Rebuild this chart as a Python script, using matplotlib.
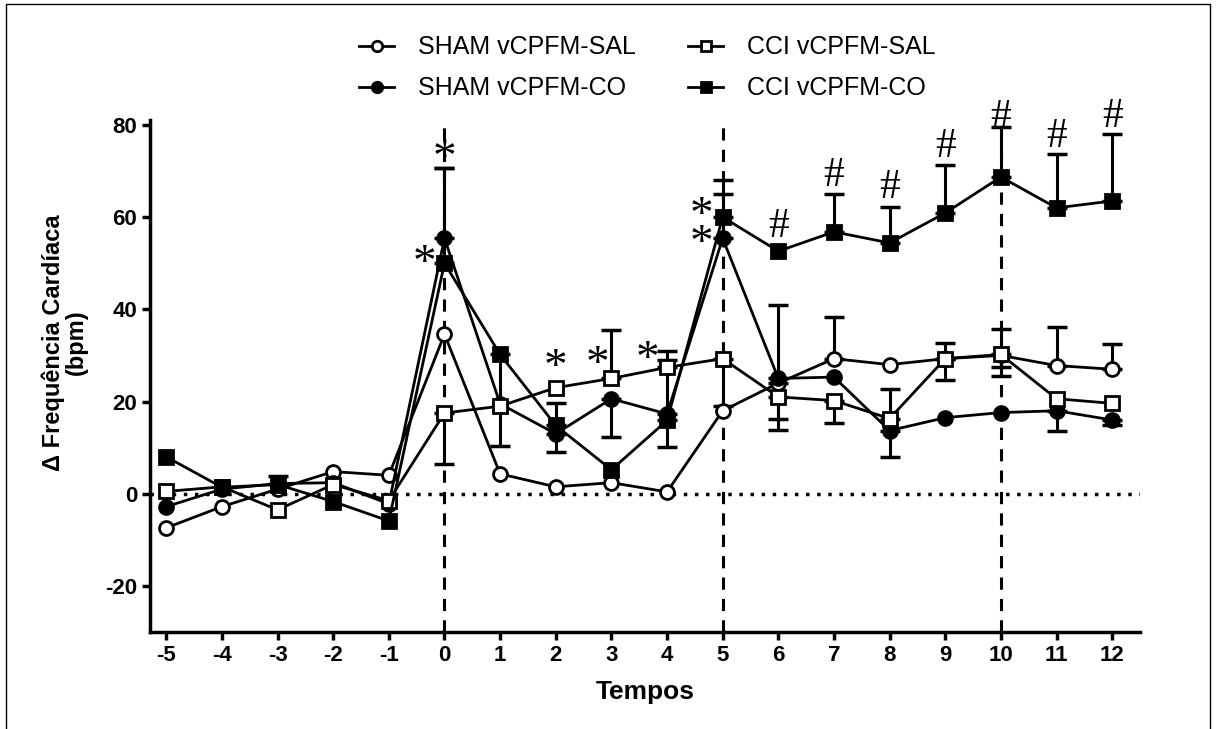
import matplotlib
matplotlib.use("Agg")
import matplotlib.pyplot as plt
import numpy as np
from matplotlib.patches import Rectangle

# time points
tempos = np.arange(-5, 13)

# mean values (delta bpm)
sham_sal = [-7.4, -2.8, 1.0, 4.8, 4.0, 34.6, 4.3, 1.5, 2.4, 0.4, 18.0, 24.0, 29.3, 28.0, 29.3, 30.0, 27.8, 27.0]
sham_co = [-2.8, 1.0, 2.2, 2.4, -2.2, 55.4, 19.5, 13.0, 20.6, 17.3, 55.4, 25.0, 25.3, 13.7, 16.5, 17.6, 18.0, 16.0]
cci_sal = [0.5, 1.5, -3.5, 2.0, -1.5, 17.5, 19.0, 23.0, 25.0, 27.4, 29.3, 21.0, 20.2, 16.3, 29.3, 30.2, 20.6, 19.6]
cci_co = [8.0, 1.4, 2.0, -1.7, -5.9, 50.0, 30.2, 14.8, 5.2, 15.9, 60.0, 52.6, 56.8, 54.4, 60.9, 68.7, 62.0, 63.5]

# one-sided SEM bars (lower, upper)
sham_sal_lo = [0, 0, 0, 0, 0, 0, 0, 0, 0, 0, 0, 10.1, 0, 0, 0, 4.4, 0, 0]
sham_sal_up = [0, 0, 0, 0, 0, 0, 0, 0, 0, 0, 0, 0, 9.0, 0, 3.3, 5.8, 8.3, 5.4]
sham_co_lo = [0, 0, 0, 0, 0, 0, 0, 3.9, 8.4, 7.1, 0, 0, 0, 5.7, 0, 0, 4.5, 1.2]
sham_co_up = [0, 0, 1.7, 0, 0, 15.2, 0, 0, 0, 0, 9.6, 16.0, 0, 0, 0, 0, 0, 0]
cci_sal_lo = [0, 0, 0, 0, 0, 11.0, 0, 0, 0, 0, 10.3, 4.7, 4.8, 0, 4.7, 2.8, 0, 0]
cci_sal_up = [0, 0, 0, 0, 0, 0, 0, 0, 10.6, 3.5, 0, 0, 0, 6.5, 0, 0, 0, 0]
cci_co_lo = [0, 0, 0, 0, 0, 0, 19.8, 0, 0, 0, 0, 0, 0, 0, 0, 0, 0, 0]
cci_co_up = [0, 0, 0, 0, 0, 20.6, 0, 4.8, 0, 13.1, 8.0, 0, 8.2, 7.8, 10.4, 10.9, 11.7, 14.5]

# significance marks
star_x = [0, -0.36, 2.0, 2.75, 3.65, 4.62]
star_y = [72.5, 49.6, 27.2, 27.8, 28.9, 57.0]
star_txt = ['*', '*', '*', '*', '*', '*\n*']
hash_x = [6, 7, 8, 9, 10, 11, 12]
hash_y = [57.8, 69.0, 66.3, 75.2, 81.5, 77.4, 81.7]

plt.rcParams['font.family'] = ['Liberation Sans', 'DejaVu Sans']
plt.rcParams['axes.unicode_minus'] = False

fig = plt.figure(figsize=(12.16, 7.29), dpi=100)
ax = fig.add_axes([0.123, 0.133, 0.8145, 0.702])

ax.axhline(0, color='black', lw=2.5, ls=(0, (1, 2.2)), zorder=1)
for xv in [0, 5, 10]:
    ax.axvline(xv, color='black', lw=2.2, ls=(0, (4, 3)), zorder=1)

series = [
    (sham_sal, sham_sal_lo, sham_sal_up, 'o', 'white', 'SHAM vCPFM-SAL'),
    (sham_co, sham_co_lo, sham_co_up, 'o', 'black', 'SHAM vCPFM-CO'),
    (cci_sal, cci_sal_lo, cci_sal_up, 's', 'white', 'CCI vCPFM-SAL'),
    (cci_co, cci_co_lo, cci_co_up, 's', 'black', 'CCI vCPFM-CO'),
]

handles = {}
for vals, lo, up, mk, fc, lab in series:
    vals = np.array(vals)
    lo = np.array(lo)
    up = np.array(up)
    m = (lo > 0) | (up > 0)
    ax.errorbar(tempos[m], vals[m], yerr=[lo[m], up[m]], fmt='none',
                ecolor='black', elinewidth=2.2, capsize=7, capthick=2.5, zorder=2)
    h, = ax.plot(tempos, vals, color='black', lw=2, marker=mk, ms=10,
                 mfc=fc, mec='black', mew=2, label=lab, zorder=3)
    handles[lab] = h

for xs, ys, st in zip(star_x, star_y, star_txt):
    ax.text(xs, ys, st, family='Liberation Serif', fontsize=34,
            ha='center', va='center', linespacing=0.55, zorder=4)
for xs, ys in zip(hash_x, hash_y):
    ax.text(xs, ys, '#', family='Liberation Serif', fontsize=30,
            ha='center', va='center', zorder=4, clip_on=False)

ax.set_xlim(-5.3, 12.5)
ax.set_ylim(-30, 81)
ax.set_xticks(tempos)
ax.set_yticks([-20, 0, 20, 40, 60, 80])
for s in ['top', 'right']:
    ax.spines[s].set_visible(False)
for s in ['left', 'bottom']:
    ax.spines[s].set_linewidth(2.5)
ax.tick_params(direction='out', length=5.5, width=2.5, labelsize=16)
for t in ax.get_xticklabels() + ax.get_yticklabels():
    t.set_fontweight('bold')

ax.set_xlabel('Tempos', fontsize=19, fontweight='bold')
ax.xaxis.set_label_coords(0.5, -0.093)
ax.set_ylabel('Δ Frequência Cardíaca\n(bpm)', fontsize=17, fontweight='bold',
              linespacing=1.0)
ax.yaxis.set_label_coords(-0.062, 0.566)

order = ['SHAM vCPFM-SAL', 'SHAM vCPFM-CO', 'CCI vCPFM-SAL', 'CCI vCPFM-CO']
fig.legend([handles[k] for k in order], order, ncol=2, loc='center',
           bbox_to_anchor=(0.5325, 0.907), frameon=False, fontsize=18,
           handlelength=1.4, columnspacing=2.1, labelspacing=0.68,
           handletextpad=0.95, markerscale=0.75)

fig.patches.append(Rectangle((0.005, -0.1), 0.99, 1.094, transform=fig.transFigure,
                             fill=False, edgecolor='black', lw=1))

fig.savefig('out.png', dpi=100)
